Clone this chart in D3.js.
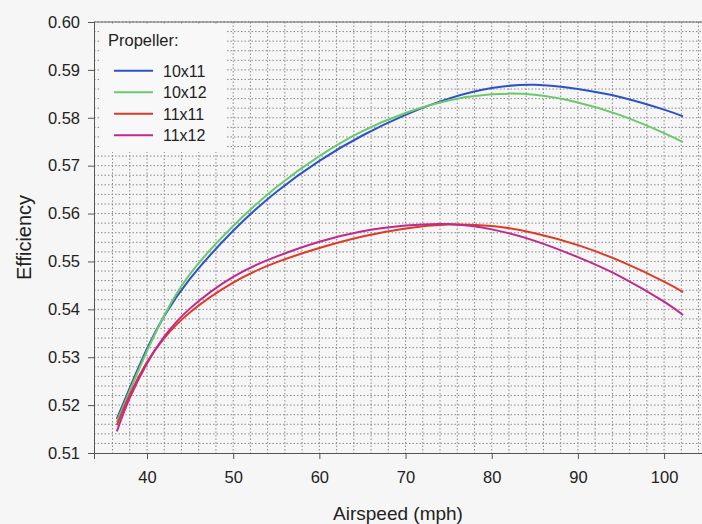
<!DOCTYPE html>
<html>
<head>
<meta charset="utf-8">
<script src="https://cdn.jsdelivr.net/npm/d3@7"></script>
<style>
    html, body { margin: 0; padding: 0; background: #f6f6f6; }
    svg { display: block; font-family: "Liberation Sans", Arial, sans-serif; }
</style>
</head>
<body>
<svg id="chart" width="702" height="524"></svg>
<script>
const airspeed = [36.5, 38, 40, 42, 45, 50, 55, 60, 65, 70, 75, 80, 85, 90, 95, 100, 102.2];

const prop10x11 = [0.5171, 0.5236, 0.5318, 0.5386, 0.5464, 0.5564, 0.5645, 0.5710, 0.5763, 0.5806, 0.5840, 0.5862, 0.5869, 0.5860, 0.5843, 0.5817, 0.5803];
const prop10x12 = [0.5165, 0.5230, 0.5313, 0.5387, 0.5474, 0.5574, 0.5655, 0.5720, 0.5772, 0.5810, 0.5836, 0.5849, 0.5848, 0.5832, 0.5805, 0.5768, 0.5749];
const prop11x11 = [0.5158, 0.5222, 0.5290, 0.5340, 0.5394, 0.5456, 0.5498, 0.5528, 0.5552, 0.5569, 0.5577, 0.5574, 0.5559, 0.5534, 0.5500, 0.5458, 0.5436];
const prop11x12 = [0.5145, 0.5215, 0.5287, 0.5343, 0.5402, 0.5468, 0.5510, 0.5541, 0.5563, 0.5575, 0.5578, 0.5567, 0.5543, 0.5509, 0.5468, 0.5416, 0.5388];

const seriesNames = ['10x11', '10x12', '11x11', '11x12'];
const seriesColors = ['#2d52c6', '#6cc86c', '#dc3b27', '#bf2a8c'];

const xTicks = [40, 50, 60, 70, 80, 90, 100];
const yTicks = [0.51, 0.52, 0.53, 0.54, 0.55, 0.56, 0.57, 0.58, 0.59, 0.60];

const series = [prop10x11, prop10x12, prop11x11, prop11x12].map((values, i) => ({
    name: seriesNames[i],
    color: seriesColors[i],
    points: airspeed.map((a, j) => [a, values[j]])
}));

const margin = { top: 22, left: 94, bottom: 71, right: 0 };
const width = 702;
const height = 524;
const chartWidth = width - margin.left - margin.right;
const chartHeight = height - margin.top - margin.bottom;

const svg = d3.select('#chart');
const g = svg.append('g')
    .attr('transform', `translate(${[margin.left, margin.top]})`);

const x = d3.scaleLinear()
    .domain([33.85, 104.4])
    .range([0, chartWidth]);

const y = d3.scaleLinear()
    .domain([0.51, 0.60])
    .range([chartHeight, 0]);

// dotted grid
const grid = g.append('g')
    .attr('stroke', '#8a8a8a')
    .attr('stroke-width', 1)
    .attr('stroke-dasharray', '1.5,2');

grid.selectAll('line.v')
    .data(d3.range(36, 105, 2))
    .enter()
    .append('line')
    .attr('x1', d => x(d))
    .attr('x2', d => x(d))
    .attr('y1', 0)
    .attr('y2', chartHeight);

grid.selectAll('line.h')
    .data(d3.range(0, 45).map(i => 0.512 + i * 0.002))
    .enter()
    .append('line')
    .attr('x1', 0)
    .attr('x2', chartWidth)
    .attr('y1', d => y(d))
    .attr('y2', d => y(d));

// top frame line
g.append('line')
    .attr('x1', 0)
    .attr('x2', chartWidth)
    .attr('y1', 0)
    .attr('y2', 0)
    .attr('stroke', '#666');

const line = d3.line()
    .x(d => x(d[0]))
    .y(d => y(d[1]))
    .curve(d3.curveNatural);

g.append('g')
    .selectAll('path')
    .data(series)
    .enter()
    .append('path')
    .attr('fill', 'none')
    .attr('stroke', d => d.color)
    .attr('stroke-width', 2)
    .attr('d', d => line(d.points));

const yAxe = d3.axisLeft(y)
    .tickValues(yTicks)
    .tickFormat(d3.format('.2f'))
    .tickSize(6)
    .tickPadding(8);

const xAxe = d3.axisBottom(x)
    .tickValues(xTicks)
    .tickSize(6)
    .tickPadding(12);

const styleAxis = sel => {
    sel.select('.domain').attr('stroke', '#555');
    sel.selectAll('.tick line').attr('stroke', '#555');
    sel.selectAll('.tick text')
        .attr('fill', '#222')
        .style('font-size', '16.5px')
        .style('font-family', '"Liberation Sans", Arial, sans-serif');
};

g.append('g')
    .call(yAxe)
    .call(styleAxis);

g.append('g')
    .attr('transform', `translate(0, ${chartHeight})`)
    .call(xAxe)
    .call(styleAxis);

// axis titles
svg.append('text')
    .attr('transform', `translate(31, ${margin.top + chartHeight / 2}) rotate(-90)`)
    .attr('text-anchor', 'middle')
    .attr('fill', '#222')
    .style('font-size', '20px')
    .text('Efficiency');

svg.append('text')
    .attr('x', margin.left + chartWidth / 2)
    .attr('y', 520)
    .attr('text-anchor', 'middle')
    .attr('fill', '#222')
    .style('font-size', '19px')
    .text('Airspeed (mph)');

// legend
const legend = svg.append('g')
    .attr('transform', 'translate(101, 24)');

legend.append('rect')
    .attr('width', 126)
    .attr('height', 128)
    .attr('fill', '#f8f8f8');

legend.append('text')
    .attr('x', 7)
    .attr('y', 22)
    .attr('fill', '#222')
    .style('font-size', '16.5px')
    .text('Propeller:');

const items = legend.selectAll('g.item')
    .data(series)
    .enter()
    .append('g')
    .attr('transform', (d, i) => `translate(0, ${46.7 + i * 21.5})`);

items.append('line')
    .attr('x1', 13)
    .attr('x2', 52)
    .attr('stroke', d => d.color)
    .attr('stroke-width', 2);

items.append('text')
    .attr('x', 62)
    .attr('y', 6)
    .attr('fill', '#222')
    .style('font-size', '16px')
    .text(d => d.name);
</script>
</body>
</html>
